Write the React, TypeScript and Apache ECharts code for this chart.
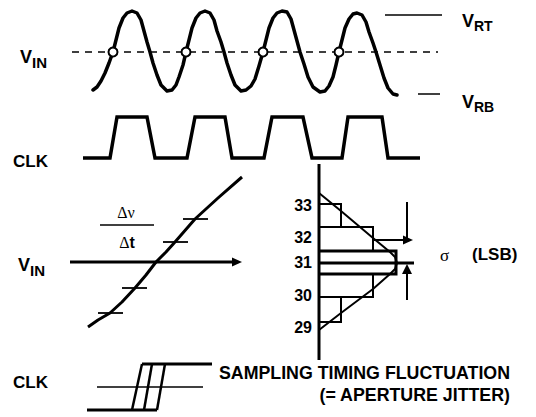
import React, { useEffect, useRef } from "react";
import * as echarts from "echarts";

// ---- data (diagram coordinates) ----
const vinWave: number[][] = [
  [93, 90], [97, 87], [101, 81], [105, 73], [109, 63], [113, 52],
  [116, 40], [119, 28], [123, 18], [127, 13], [132, 11], [137, 13], [141, 20], [144, 31], [147, 42], [150, 52],
  [153, 63], [157, 75], [161, 85], [167, 91], [172, 90], [176, 85], [179, 77], [183, 65], [186, 52],
  [189, 40], [192, 28], [196, 18], [200, 13], [205, 11], [210, 13], [214, 20], [217, 31], [221, 42], [224, 52],
  [227, 63], [231, 75], [235, 85], [241, 91], [246, 90], [251, 86], [255, 79], [259, 66], [263, 52],
  [266, 40], [269, 28], [273, 18], [277, 13], [282, 11], [287, 12], [291, 19], [294, 30], [297, 41], [300, 52],
  [304, 64], [308, 77], [313, 87], [320, 92], [325, 91], [329, 86], [333, 77], [336, 65], [339, 52],
  [342, 40], [345, 28], [349, 19], [353, 14], [357, 13], [362, 15], [366, 22], [369, 32], [373, 43], [376, 52],
  [380, 65], [384, 78], [388, 88], [393, 94], [397, 95],
];
const samplePoints: number[][] = [[113, 52], [186, 52], [263, 52], [339, 52]];
const midLevel: number[][] = [[72, 52], [438, 52]];
const vrtLevel: number[][] = [[385, 15], [442, 15]];
const vrbLevel: number[][] = [[418, 94], [440, 94]];

const clkWave: number[][] = [
  [83, 158], [110, 158], [117, 117], [147, 117], [155, 158], [187, 158], [195, 117], [225, 117],
  [232, 158], [264, 158], [272, 117], [303, 117], [312, 158], [342, 158], [348, 117], [382, 117],
  [388, 158], [420, 158],
];

const transferCurve: number[][] = [
  [88, 327], [98, 320], [110, 313], [122, 302], [135, 288], [146, 275], [156, 262],
  [166, 252], [175, 242], [195, 219], [218, 198], [242, 177],
];
const codeTicks: number[][][] = [
  [[183, 219], [208, 219]],
  [[163, 242], [188, 242]],
  [[122, 288], [147, 288]],
  [[98, 313], [123, 313]],
];
const vinArrow: number[][] = [[70, 262], [234, 262]];
const fractionBar: number[][] = [[100, 225], [154, 225]];

const histLabels = ["33", "32", "31", "30", "29"];
const histLabelY = [205, 237, 262, 295, 327];
const histCounts = [22, 54, 77, 54, 22];
const histEdges = [204, 227, 251, 274, 297, 322];
const histAxisX = 319;
const histAxis: number[][] = [[319, 164], [319, 360]];
const gaussCurve: number[][] = [
  [319, 193], [341, 211], [373, 238], [390, 252], [395, 257], [397, 263],
  [395, 269], [390, 274], [373, 289], [341, 313], [319, 330],
];
const meanLine: number[][] = [[319, 263], [414, 263]];
const sigmaTop: number[][] = [[407, 202], [407, 240], [373, 240], [405, 240]];
const sigmaBottom: number[][] = [[407, 300], [407, 272]];

const clkHigh: number[][] = [[142, 364], [212, 364]];
const clkMid: number[][] = [[97, 387], [203, 387]];
const clkLow: number[][] = [[87, 410], [157, 410]];
const jitterEdges: number[][][] = [
  [[132, 410], [142, 364]],
  [[144, 410], [152, 364]],
  [[157, 410], [165, 364]],
];

export default function App() {
  const ref = useRef<HTMLDivElement>(null);
  useEffect(() => {
    if (!ref.current) return;
    const chart = echarts.init(ref.current, null, { renderer: "svg" });
    const line = (data: number[][], width: number, extra: any = {}) => ({
      type: "line",
      data,
      showSymbol: false,
      symbol: "none",
      silent: true,
      clip: false,
      lineStyle: { color: "#000", width, join: "round", cap: "butt", ...(extra.lineStyle || {}) },
      z: extra.z ?? 2,
    });
    const series: any[] = [];
    series.push(line(vinWave, 3.5, { lineStyle: { join: "round", cap: "round" } }));
    series.push(line(midLevel, 1.5, { lineStyle: { type: [7, 6] } }));
    series.push(line(vrtLevel, 1.5));
    series.push(line(vrbLevel, 1.5));
    series.push(line(clkWave, 3.5, { lineStyle: { join: "miter" } }));
    series.push(line(transferCurve, 3));
    codeTicks.forEach((t) => series.push(line(t, 1.8)));
    series.push(line(vinArrow, 3));
    series.push(line(fractionBar, 1.5));
    histCounts.forEach((c, i) => {
      const top = histEdges[i];
      const bot = histEdges[i + 1];
      const w = i === 2 ? 3 : 2;
      series.push(
        line(
          [
            [histAxisX, top],
            [histAxisX + c, top],
            [histAxisX + c, bot],
            [histAxisX, bot],
          ],
          w,
          { lineStyle: { join: "miter" } }
        )
      );
    });
    series.push(line(histAxis, 3));
    series.push(line(gaussCurve, 2));
    series.push(line(meanLine, 3));
    series.push(line(sigmaTop, 2));
    series.push(line(sigmaBottom, 2));
    series.push(line(clkHigh, 3));
    series.push(line(clkMid, 1.5));
    series.push(line(clkLow, 3));
    jitterEdges.forEach((e) => series.push(line(e, 2.5)));
    series.push({
      type: "scatter",
      data: samplePoints,
      symbol: "circle",
      symbolSize: 9,
      silent: true,
      itemStyle: { color: "#fff", borderColor: "#000", borderWidth: 2, opacity: 1 },
      z: 5,
    });
    const arrowHead = (pt: number[], size: number[], rot: number) => ({
      type: "scatter",
      data: [pt],
      symbol: "triangle",
      symbolSize: size,
      symbolRotate: rot,
      silent: true,
      itemStyle: { color: "#000", opacity: 1 },
      z: 5,
    });
    series.push(arrowHead([237, 262], [9, 10], -90));
    series.push(arrowHead([408, 240], [9, 10], -90));
    series.push(arrowHead([407, 269], [10, 10], 0));

    const sans = "'Liberation Sans', Arial, sans-serif";
    const serif = "'Liberation Serif', 'Times New Roman', serif";
    const txt = (x: number, y: number, text: string, size: number, opts: any = {}) => ({
      type: "text",
      x,
      y,
      silent: true,
      z: 10,
      style: {
        text,
        fontSize: size,
        fontWeight: opts.weight ?? "bold",
        fontFamily: opts.family ?? sans,
        fill: "#000",
        align: opts.align ?? "left",
        textAlign: opts.align ?? "left",
        verticalAlign: "middle",
        textVerticalAlign: "middle",
      },
    });
    const graphic: any[] = [
      txt(20, 57, "V", 18),
      txt(32, 62, "IN", 15),
      txt(462, 21, "V", 18),
      txt(474, 26, "RT", 14),
      txt(462, 102, "V", 18),
      txt(474, 107, "RB", 14),
      txt(13, 161, "CLK", 17),
      txt(18, 265, "V", 18),
      txt(30, 270, "IN", 15),
      txt(126, 212, "Δν", 16, { align: "center", weight: "normal", family: serif }),
      {
        type: "text",
        x: 127,
        y: 242,
        silent: true,
        z: 10,
        style: {
          text: "{a|Δ}{b|t}",
          align: "center",
          textAlign: "center",
          verticalAlign: "middle",
          textVerticalAlign: "middle",
          rich: {
            a: { fontSize: 16, fontFamily: serif, fill: "#000" },
            b: { fontSize: 16, fontFamily: sans, fontWeight: "bold", fill: "#000" },
          },
        },
      },
      ...histLabels.map((l, i) => txt(312, histLabelY[i], l, 16, { align: "right" })),
      txt(440, 255, "σ", 17, { weight: "normal", family: serif }),
      txt(472, 254, "(LSB)", 17),
      txt(13, 382, "CLK", 17),
      txt(510, 373, "SAMPLING TIMING FLUCTUATION", 17.8, { align: "right" }),
      txt(510, 395, "(= APERTURE JITTER)", 17.8, { align: "right" }),
    ];

    chart.setOption({
      animation: false,
      backgroundColor: "#fff",
      grid: { left: 0, right: 0, top: 0, bottom: 0 },
      xAxis: { type: "value", min: 0, max: 536, show: false },
      yAxis: { type: "value", min: 0, max: 417, inverse: true, show: false },
      series,
      graphic,
    });
    return () => chart.dispose();
  }, []);
  return (
    <div
      ref={ref}
      style={{ position: "fixed", left: 0, top: 0, width: 536, height: 417, background: "#fff" }}
    />
  );
}
